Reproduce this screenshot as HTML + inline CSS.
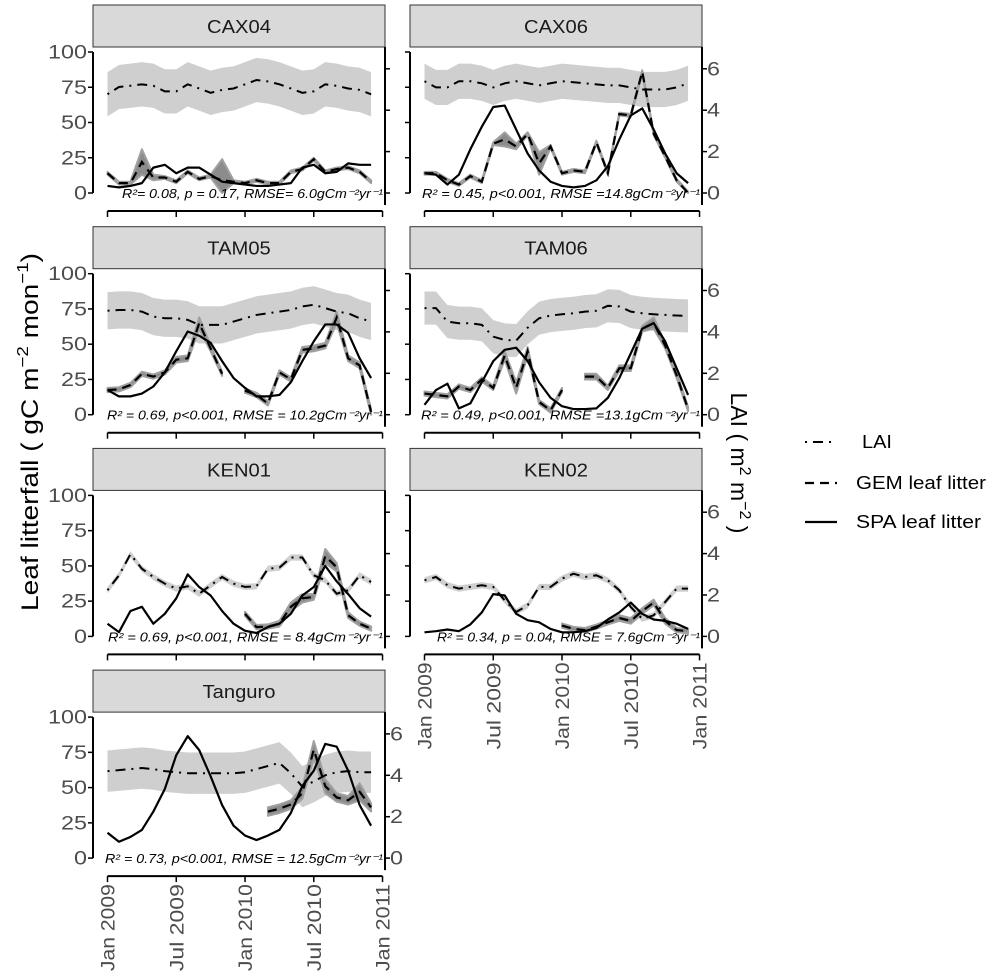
<!DOCTYPE html>
<html><head><meta charset="utf-8">
<style>
html,body{margin:0;padding:0;background:#fff;}
svg{display:block;font-family:"Liberation Sans",Arial,sans-serif;}
</style></head>
<body>
<svg id="chart" width="996" height="977" viewBox="0 0 996 977" xmlns="http://www.w3.org/2000/svg">
<g id="panels"></g>
<text transform="translate(38,432) rotate(-90)" text-anchor="middle" font-size="24" fill="#000" textLength="358" lengthAdjust="spacingAndGlyphs">Leaf  litterfall ( gC m<tspan dy="-10" font-size="16">−2</tspan><tspan dy="10"> mon</tspan><tspan dy="-10" font-size="16">−1</tspan><tspan dy="10">)</tspan></text>
<text transform="translate(731,463) rotate(90)" text-anchor="middle" font-size="23" fill="#000">LAI ( m<tspan dy="-9" font-size="16">2</tspan><tspan dy="9"> m</tspan><tspan dy="-9" font-size="16">−2</tspan><tspan dy="9"> )</tspan></text>
<g>
  <g>
    <line x1="805" y1="442" x2="837" y2="442" stroke="#000" stroke-width="2" stroke-dasharray="2,6,10,6"/>
    <text x="862" y="448" font-size="18" textLength="30" lengthAdjust="spacingAndGlyphs">LAI</text>
  </g>
  <g>
    <line x1="805" y1="483" x2="837" y2="483" stroke="#000" stroke-width="2.2" stroke-dasharray="9,6"/>
    <text x="856" y="489" font-size="18" textLength="130" lengthAdjust="spacingAndGlyphs">GEM leaf litter</text>
  </g>
  <g>
    <line x1="805" y1="522" x2="837" y2="522" stroke="#000" stroke-width="2.2"/>
    <text x="856" y="528" font-size="18" textLength="125" lengthAdjust="spacingAndGlyphs">SPA leaf litter</text>
  </g>
</g>
</svg>
<script>
// ---- data (24 months, Jan 2009 .. Dec 2010) ----
const xTickLabels = ["Jan 2009","Jul 2009","Jan 2010","Jul 2010","Jan 2011"];
const xTickMonths = [0,6,12,18,24];
const yTicksLeft = [0,25,50,75,100];
const yTicksRight = [0,2,4,6];
const siteNames = ["CAX04","CAX06","TAM05","TAM06","KEN01","KEN02","Tanguro"];

const cax04Lai = [4.77,5.12,5.18,5.25,5.18,4.91,4.91,5.25,5.05,4.84,4.98,5.05,5.25,5.46,5.39,5.25,5.05,4.84,4.91,5.25,5.18,5.05,4.98,4.77];
const cax04LaiSd = [1.07];
const cax04Gem = [14,7,7,22,11,11,8,15,10,12,9,8,7,9,7,7,15,17,24,15,17,18,15,8];
const cax04GemSd = [1,1,1,9,2,1,1,1,1,1,15,1,1,1,1,1,1,1,1,1,1,1,1,1];
const cax04Spa = [5,4,5,7,18,20,14,18,18,13,8,7,6,5,5,6,7,18,20,14,15,21,20,20];

const cax06Lai = [5.4,5.1,5.1,5.4,5.4,5.3,5.1,5.3,5.4,5.3,5.2,5.3,5.4,5.35,5.3,5.25,5.2,5.2,5.1,5.0,5.0,5.0,5.1,5.3];
const cax06LaiSd = [0.85];
const cax06Gem = [14,14,9,6,12,8,35,38,33,42,21,33,14,16,15,36,14,56,55,86,42,26,9,0];
const cax06GemSd = [1,1,1,1,1,1,1,5,2,1,8,1,1,1,1,1,1,1,1,1,1,1,1,1];
const cax06Spa = [14,13,6,13,31,47,61,62,45,28,16,8,5,4,5,9,19,38,55,60,45,28,14,7];

const tam05Lai = [5.02,5.06,5.06,4.98,4.74,4.66,4.66,4.58,4.34,4.34,4.34,4.5,4.66,4.82,4.9,4.98,5.06,5.23,5.31,5.15,4.98,4.9,4.66,4.5];
const tam05LaiSd = [0.9];
const tam05Gem = [17.5,18,21,29,27,30,39,40,65,47,29,null,17,14,8,30,25,46,47,49,69,40,35,2];
const tam05GemSd = [1.5,1.5,1.5,1.5,1.5,1.5,2,2,4,2,1.5,1,1.5,1.5,1.5,1.5,1.5,2,2,2,4,2,2,2];
const tam05Spa = [17.5,13,13,15,20,30,45,59,56,51,38,26,19,13,13,14,23,38,52,64,64,58,40,26];

const tam06Lai = [5.15,5.15,4.5,4.42,4.42,4.34,3.77,3.61,3.58,4.2,4.66,4.79,4.85,4.9,4.98,5.02,5.26,5.23,4.98,4.9,4.85,4.82,4.79,4.77];
const tam06LaiSd = [0.8];
const tam06Gem = [15,14,13,20,17.5,25,19,42,19,45,9,3,17.5,null,27,27,19,33,33,61,65,49,28,4];
const tam06GemSd = [1.5,1.5,1.5,1.5,1.5,1.5,1.5,3,4,3,1.5,1.5,1.5,1,2,2,1.5,2,2,2,4,2,2,1.5];
const tam06Spa = [7,17.5,22,4.5,8,23,38,46,47.5,38,23,12,6,4,4,4.5,12,26,43.5,61,65,52,33,14];

const ken01Lai = [2.23,2.95,3.97,3.27,2.87,2.55,2.31,2.42,2.06,2.47,2.87,2.55,2.39,2.42,3.27,3.32,3.81,3.81,2.95,2.71,2.06,2.23,2.95,2.63];
const ken01LaiSd = [0.15];
const ken01Gem = [null,null,null,null,null,null,null,null,null,null,null,null,16,6.6,7,9,21,27,28,57,49,15,9,5.5];
const ken01GemSd = [0,0,0,0,0,0,0,0,0,0,0,0,1.5,1.5,1.5,2,3,3,2,5,3,2,1.5,1.5];
const ken01Spa = [9,3,18,21,9,16,27,44,35,29,18,9,4,2.4,6.6,9,16,29,35,50,39,30,20,14];

const ken02Lai = [2.71,2.87,2.47,2.31,2.39,2.47,2.39,1.74,1.18,1.5,2.39,2.39,2.79,3.03,2.87,2.95,2.71,2.23,1.42,0.85,1.02,1.66,2.31,2.31];
const ken02LaiSd = [0.15];
const ken02Gem = [null,null,null,null,null,null,null,null,null,null,null,null,7.7,5.3,4.5,6.9,10,13,11,18,24,11,4.5,3.7];
const ken02GemSd = [0,0,0,0,0,0,0,0,0,0,0,0,1.5,1.5,1.5,1.5,1.5,2,2,2,2,2,1.5,1.5];
const ken02Spa = [2.9,3.7,4.9,3.7,8.5,17,30,29,16,11.5,10,5.3,2.9,2.9,3.7,6,12,17,24,16,12,11,9,5.3];

const tanLai = [4.2,4.25,4.3,4.35,4.3,4.2,4.15,4.1,4.1,4.1,4.1,4.1,4.15,4.3,4.45,4.6,4.1,3.45,3.7,4.0,4.15,4.2,4.15,4.15];
const tanLaiSd = [1.0];
const tanGem = [null,null,null,null,null,null,null,null,null,null,null,null,null,null,33,35,38,46,77,51,43,41,47,36];
const tanGemSd = [0,0,0,0,0,0,0,0,0,0,0,0,0,0,3,3,3,4,6,5,3,3,6,3];
const tanSpa = [18,11.6,15,20,33,49,73,86.5,76.6,58,37.6,23,16,12.8,16,20,32,51,62,81,79,62,37.6,23];

const panelDefs = [
  {name:"CAX04",col:0,row:0,lai:cax04Lai,laiSd:cax04LaiSd,gem:cax04Gem,gemSd:cax04GemSd,spa:cax04Spa,ann:"R²= 0.08, p = 0.17, RMSE= 6.0gCm⁻²yr⁻¹",annX0:122},
  {name:"CAX06",col:1,row:0,lai:cax06Lai,laiSd:cax06LaiSd,gem:cax06Gem,gemSd:cax06GemSd,spa:cax06Spa,ann:"R² = 0.45, p<0.001, RMSE =14.8gCm⁻²yr⁻¹",annX0:422},
  {name:"TAM05",col:0,row:1,lai:tam05Lai,laiSd:tam05LaiSd,gem:tam05Gem,gemSd:tam05GemSd,spa:tam05Spa,ann:"R² = 0.69, p<0.001, RMSE = 10.2gCm⁻²yr⁻¹",annX0:107},
  {name:"TAM06",col:1,row:1,lai:tam06Lai,laiSd:tam06LaiSd,gem:tam06Gem,gemSd:tam06GemSd,spa:tam06Spa,ann:"R² = 0.49, p<0.001, RMSE =13.1gCm⁻²yr⁻¹",annX0:421},
  {name:"KEN01",col:0,row:2,lai:ken01Lai,laiSd:ken01LaiSd,gem:ken01Gem,gemSd:ken01GemSd,spa:ken01Spa,ann:"R² = 0.69, p<0.001, RMSE = 8.4gCm⁻²yr⁻¹",annX0:108},
  {name:"KEN02",col:1,row:2,lai:ken02Lai,laiSd:ken02LaiSd,gem:ken02Gem,gemSd:ken02GemSd,spa:ken02Spa,ann:"R² = 0.34, p = 0.04, RMSE = 7.6gCm⁻²yr⁻¹",annX0:437},
  {name:"Tanguro",col:0,row:3,lai:tanLai,laiSd:tanLaiSd,gem:tanGem,gemSd:tanGemSd,spa:tanSpa,ann:"R² = 0.73, p<0.001, RMSE = 12.5gCm⁻²yr⁻¹",annX0:105}
];

const NS = "http://www.w3.org/2000/svg";
const root = document.getElementById("panels");
function mk(tag, attrs, parent){
  const e = document.createElementNS(NS, tag);
  for (const k in attrs) e.setAttribute(k, attrs[k]);
  (parent||root).appendChild(e);
  return e;
}
function segments(arr){
  const segs=[]; let cur=[];
  arr.forEach((v,i)=>{ if(v===null||v===undefined){ if(cur.length) segs.push(cur); cur=[]; } else cur.push(i); });
  if(cur.length) segs.push(cur);
  return segs;
}

panelDefs.forEach(p=>{
  const left = p.col ? 410 : 93;
  const right = left + 292;
  const y0 = 193 + p.row*221.7;
  const xS = i => left + 14.5 + i*11.46;
  const yL = v => y0 - v*1.41;
  const yR = v => y0 - v*20.7;

  const g = mk("g",{});
  
  

  const strip = mk("rect",{x:left,y:y0-188,width:292,height:42,fill:"#d9d9d9",stroke:"#333",'stroke-width':1},g);
  
  
  const st = mk("text",{x:left+146,y:y0-160,'text-anchor':'middle','font-size':18,fill:'#1a1a1a'},g);
  st.textContent = p.name;
  
  
  try { const w=st.getComputedTextLength(); st.setAttribute('textLength', (w*1.12).toFixed(1)); st.setAttribute('lengthAdjust','spacingAndGlyphs'); } catch(e){}

  const sd = p.laiSd[0];
  let up = p.lai.map((v,i)=>xS(i)+","+yR(v+sd));
  let lo = p.lai.map((v,i)=>xS(i)+","+yR(Math.max(0,v-sd))).reverse();
  const band = mk("polygon",{points:up.concat(lo).join(" "),fill:"#cfcfcf",stroke:"none"},g);
  
  

  segments(p.gem).forEach(seg=>{
    const u = seg.map(i=>xS(i)+","+yL(p.gem[i]+p.gemSd[i]));
    const l = seg.map(i=>xS(i)+","+yL(Math.max(0,p.gem[i]-p.gemSd[i]))).reverse();
    const gb = mk("polygon",{points:u.concat(l).join(" "),fill:"#8c8c8c",stroke:"#a0a0a0",'stroke-width':2,'stroke-linejoin':'round'},g);
    
    
  });

  const laiL = mk("polyline",{points:p.lai.map((v,i)=>xS(i)+","+yR(v)).join(" "),fill:"none",stroke:"#000",'stroke-width':2,'stroke-dasharray':"2,6,10,6"},g);
  
  

  segments(p.gem).forEach(seg=>{
    const gl = mk("polyline",{points:seg.map(i=>xS(i)+","+yL(p.gem[i])).join(" "),fill:"none",stroke:"#000",'stroke-width':2.2,'stroke-dasharray':"9,6"},g);
    
    
  });

  const sl = mk("polyline",{points:p.spa.map((v,i)=>xS(i)+","+yL(v)).join(" "),fill:"none",stroke:"#000",'stroke-width':2.2,'stroke-linejoin':'round'},g);
  
  

  const la = mk("line",{x1:left,y1:yL(100),x2:left,y2:y0,stroke:"#000",'stroke-width':2},g);
  
  
  yTicksLeft.forEach(v=>{
    mk("line",{x1:left-5,y1:yL(v),x2:left,y2:yL(v),stroke:"#000",'stroke-width':1.5},g);
    if(p.col===0){
      const t = mk("text",{x:left-6,y:yL(v)+6.5,'text-anchor':'end','font-size':19,fill:'#4d4d4d',textLength:String(v).length*13,lengthAdjust:'spacingAndGlyphs'},g);
      t.textContent = v;
      
      
    }
  });
  const ra = mk("line",{x1:right,y1:y0-146,x2:right,y2:y0+12,stroke:"#000",'stroke-width':2},g);
  
  
  yTicksRight.forEach(v=>{
    mk("line",{x1:right,y1:yR(v),x2:right+5,y2:yR(v),stroke:"#000",'stroke-width':1.5},g);
    if(p.col===1 || p.row===3){
      const t = mk("text",{x:right+5,y:yR(v)+6.5,'font-size':19,fill:'#4d4d4d',textLength:13,lengthAdjust:'spacingAndGlyphs'},g);
      t.textContent = v;
      
      
    }
  });
  const xa = mk("line",{x1:xS(0),y1:y0+18,x2:xS(24),y2:y0+18,stroke:"#000",'stroke-width':2},g);
  
  
  xTickMonths.forEach((m,k)=>{
    mk("line",{x1:xS(m),y1:y0+18,x2:xS(m),y2:y0+24,stroke:"#000",'stroke-width':1.5},g);
    if(p.row===3 || (p.col===1 && p.row===2)){
      const t = mk("text",{transform:`translate(${xS(m)+7},${y0+26}) rotate(-90)`,'text-anchor':'end','font-size':19,fill:'#4d4d4d',textLength:87,lengthAdjust:'spacingAndGlyphs'},g);
      t.textContent = xTickLabels[k];
      
      
    }
  });
  const an = mk("text",{x:p.annX0,y:y0+5,'font-size':13,'font-style':'italic',fill:'#000',textLength:(right-2-p.annX0),lengthAdjust:'spacingAndGlyphs'},g);
  an.textContent = p.ann;
  
  
});
</script>
</body></html>
